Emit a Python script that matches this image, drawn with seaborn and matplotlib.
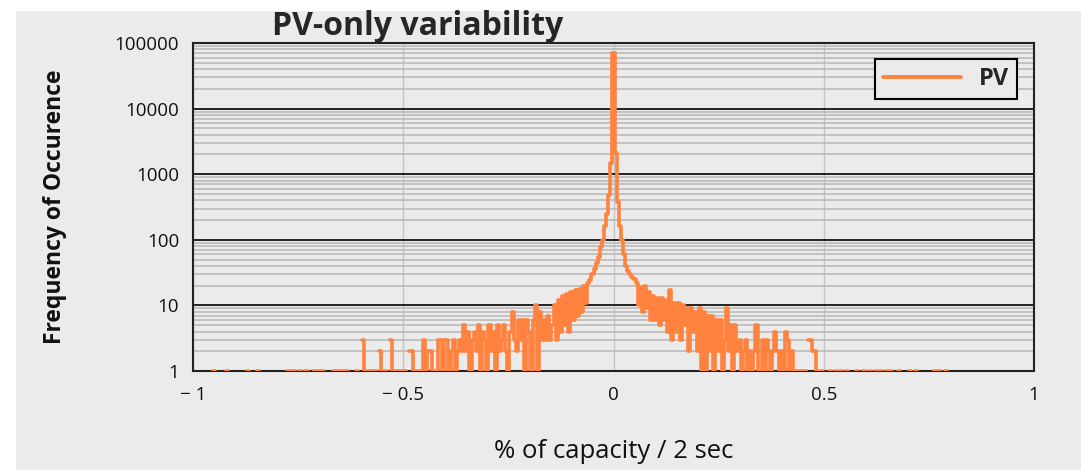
import numpy as np
import pandas as pd
import seaborn as sns
import matplotlib.pyplot as plt
from matplotlib.lines import Line2D
from matplotlib.patches import Rectangle
from matplotlib.ticker import FixedLocator, LogLocator, NullFormatter

# histogram of 2-second PV ramps, bin width 0.005 (% of capacity)
bin_width = 0.005

# isolated single counts far out in the tails
left_tail_ones = [-0.950, -0.920, -0.870, -0.845, -0.775, -0.770, -0.760, -0.745,
                  -0.730, -0.710, -0.700, -0.690, -0.665, -0.655, -0.645, -0.635, -0.610]
right_tail_ones = [0.515, 0.530, 0.540, 0.555, 0.580, 0.595, 0.610, 0.625, 0.635,
                   0.650, 0.660, 0.680, 0.705, 0.720, 0.765, 0.775, 0.790]

# -0.595 ... -0.305
left_sparse_start = -0.595
left_sparse = [3, 1, 0, 1, 0, 1, 1, 0, 2, 1, 0, 1, 0, 3, 1, 0, 1, 1, 1, 0,
               1, 0, 2, 2, 1, 0, 1, 0, 1, 3, 1, 2, 2, 1, 0, 1, 3, 3, 1, 3,
               3, 1, 2, 3, 1, 2, 3, 2, 5, 2, 4, 1, 3, 4, 2, 5, 1, 4, 3]

# -0.300 ... -0.055
left_shoulder_start = -0.300
left_shoulder = [1, 5, 2, 4, 1, 5, 2, 3, 5, 2, 1, 4, 8, 3, 2, 6, 3, 6, 1, 6,
                 4, 1, 6, 10, 1, 8, 3, 6, 3, 7, 3, 5, 10, 3, 12, 4, 14, 5, 15, 4,
                 16, 6, 17, 7, 18, 8, 20, 11, 22, 24]

# -0.050 ... 0.050
core_start = -0.050
core = [30, 36, 45, 55, 78, 100, 160, 250, 480, 1500, 70000,
        2100, 380, 160, 100, 60, 40, 34, 30, 27, 25]

# 0.055 ... 0.495
right_shoulder_start = 0.055
right_shoulder = [22, 10, 19, 8, 20, 9, 16, 6, 14, 6, 13, 5, 13, 6, 12, 4, 17, 3, 11, 4,
                  11, 3, 10, 5, 9, 2, 9, 4, 8, 2, 9, 1, 8, 1, 7, 2, 7, 1, 6, 2,
                  6, 1, 3, 9, 2, 5, 1, 5, 2, 3, 1, 2, 3, 1, 2, 1, 2, 5, 1, 1,
                  3, 1, 3, 2, 1, 2, 4, 2, 1, 2, 1, 4, 3, 1, 2, 1, 0, 1, 0, 1,
                  1, 0, 3, 3, 2, 2, 1, 0, 1]

x_ticks = [-1, -0.5, 0, 0.5, 1]
x_tick_labels = ['\u2212 1', '\u2212 0.5', '0', '0.5', '1']
y_ticks = [1, 10, 100, 1000, 10000, 100000]
y_tick_labels = ['1', '10', '100', '1000', '10000', '100000']

orange = '#ff823f'
panel = '#ebebeb'


def segment(start, counts):
    xs = np.round(start + bin_width * np.arange(len(counts)), 3)
    return pd.DataFrame({'x': xs, 'count': counts})


bins = pd.concat([
    pd.DataFrame({'x': left_tail_ones, 'count': 1}),
    segment(left_sparse_start, left_sparse),
    segment(left_shoulder_start, left_shoulder),
    segment(core_start, core),
    segment(right_shoulder_start, right_shoulder),
    pd.DataFrame({'x': right_tail_ones, 'count': 1}),
]).sort_values('x').reset_index(drop=True)

# contiguous non-empty bins form one run, empty bins leave a gap
bins['gap'] = (bins['x'].diff().round(4) > bin_width) | (bins['count'].eq(0))
bins['run'] = bins['gap'].cumsum()
bins = bins[bins['count'] > 0]

# step outline: each bin contributes its left and right edge
steps = pd.concat([
    bins.assign(edge=bins['x'] - bin_width / 2, order=0),
    bins.assign(edge=bins['x'] + bin_width / 2, order=1),
]).sort_values(['x', 'order']).reset_index(drop=True)

sns.set_style('white')
plt.rcParams['font.family'] = ['Open Sans', 'DejaVu Sans']

fig = plt.figure(figsize=(10.81, 4.70), dpi=100, facecolor='white')
fig.patches.append(Rectangle((16 / 1081, 0), 1, 1 - 11 / 470, transform=fig.transFigure,
                             facecolor=panel, edgecolor='none', zorder=-10))
ax = fig.add_axes([193 / 1081, 1 - 371 / 470, (1034 - 193) / 1081, (371 - 43) / 470])
ax.set_facecolor(panel)

sns.lineplot(data=steps, x='edge', y='count', units='run', estimator=None, sort=False,
             color=orange, linewidth=2.6, ax=ax, legend=False, zorder=3)

ax.set_yscale('log')
ax.set_xlim(-1, 1)
ax.set_ylim(1, 100000)

ax.yaxis.set_major_locator(FixedLocator(y_ticks))
ax.set_yticklabels(y_tick_labels)
ax.yaxis.set_minor_locator(LogLocator(base=10, subs=np.arange(2, 10)))
ax.yaxis.set_minor_formatter(NullFormatter())
ax.set_xticks(x_ticks)
ax.set_xticklabels(x_tick_labels)
ax.tick_params(axis='both', which='both', length=0, labelsize=13.5, colors='#111111')
ax.tick_params(axis='x', pad=11)
ax.tick_params(axis='y', pad=10)

ax.grid(True, axis='y', which='major', color='black', linewidth=1.2, zorder=1)
ax.grid(True, axis='y', which='minor', color='#bababa', linewidth=1.2, zorder=1)
ax.grid(True, axis='x', which='major', color='#c4c4c4', linewidth=1.0, zorder=1)
ax.set_axisbelow(True)
for sp in ax.spines.values():
    sp.set_visible(True)
    sp.set_color('#222222')
    sp.set_linewidth(1.5)

ax.set_xlabel('% of capacity / 2 sec', fontsize=18.5, labelpad=25, color='#111111')
ax.set_ylabel('Frequency of Occurence', fontsize=16.5, fontweight='bold', labelpad=34,
              color='#111111')
fig.text(272 / 1081, 1 - 35 / 470, 'PV-only variability', fontsize=23, fontweight='bold',
         ha='left', va='baseline')

handle = Line2D([], [], color=orange, linewidth=2.8)
leg = ax.legend([handle], ['PV'], loc='upper right', bbox_to_anchor=(0.980, 0.951),
                borderaxespad=0, frameon=True, fancybox=False, edgecolor='black',
                facecolor=panel, framealpha=1, handlelength=3.3, handletextpad=0.75,
                borderpad=0.34, prop={'weight': 'bold', 'size': 17})
leg.get_frame().set_linewidth(1.5)

fig.savefig('out.png', dpi=100, facecolor=fig.get_facecolor())
